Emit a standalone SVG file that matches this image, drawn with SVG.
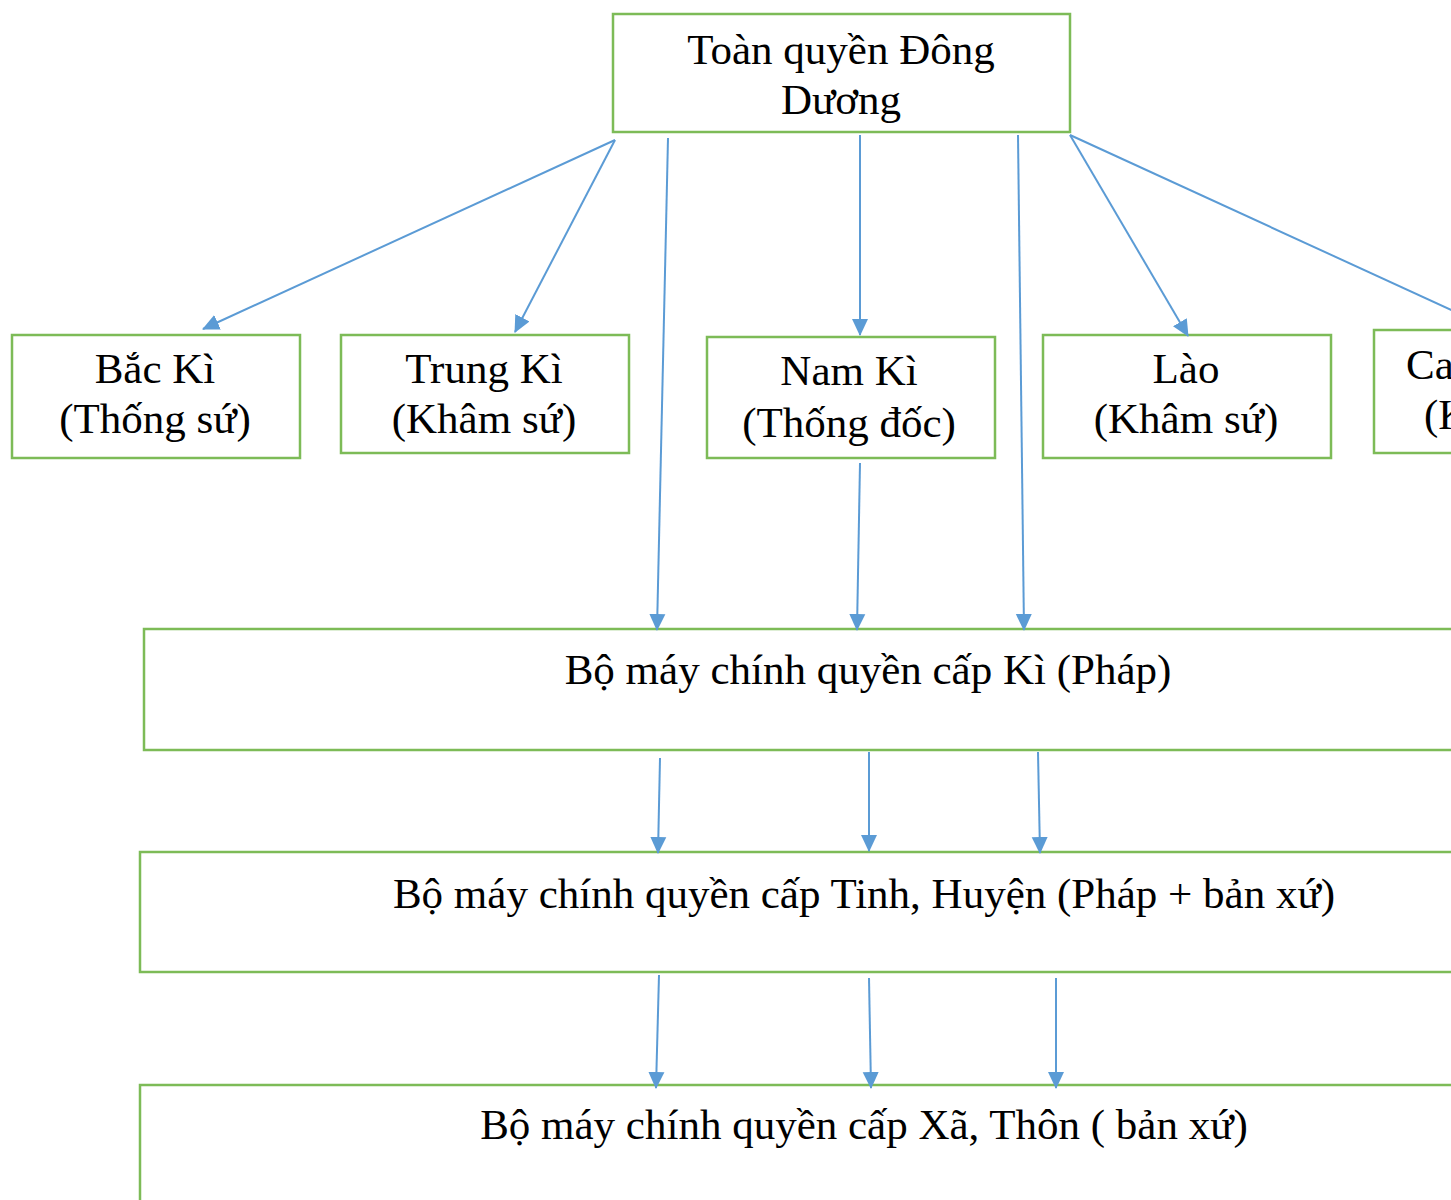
<svg xmlns="http://www.w3.org/2000/svg" width="1451" height="1200" viewBox="0 0 1451 1200">
<defs>
<marker id="ah" markerUnits="userSpaceOnUse" markerWidth="18" markerHeight="18" viewBox="0 0 18 18" refX="16" refY="9" orient="auto">
<path d="M0,1 L17,9 L0,17 Z" fill="#5b9bd5"/>
</marker>
<style>
.box{fill:#ffffff;stroke:#7dbb57;stroke-width:2.5}
.t{font-family:"Liberation Serif","Times New Roman",serif;font-size:43px;fill:#000;text-anchor:middle}
.c{fill:none;stroke:#5b9bd5;stroke-width:2;marker-end:url(#ah)}
</style>
</defs>
<rect width="1451" height="1200" fill="#ffffff"/>
<g id="toan-quyen">
<rect class="box" x="613" y="14" width="457" height="118"/>
<text class="t" x="841" y="64">Toàn quyền Đông</text>
<text class="t" x="841" y="114">Dương</text>
</g>
<g id="bac-ki">
<rect class="box" x="12" y="335" width="288" height="123"/>
<text class="t" x="155" y="383">Bắc Kì</text>
<text class="t" x="155" y="433">(Thống sứ)</text>
</g>
<g id="trung-ki">
<rect class="box" x="341" y="335" width="288" height="118"/>
<text class="t" x="484" y="383">Trung Kì</text>
<text class="t" x="484" y="433">(Khâm sứ)</text>
</g>
<g id="nam-ki">
<rect class="box" x="707" y="337" width="288" height="121"/>
<text class="t" x="849" y="385">Nam Kì</text>
<text class="t" x="849" y="437">(Thống đốc)</text>
</g>
<g id="lao">
<rect class="box" x="1043" y="335" width="288" height="123"/>
<text class="t" x="1186" y="383">Lào</text>
<text class="t" x="1186" y="433">(Khâm sứ)</text>
</g>
<g id="campuchia">
<rect class="box" x="1374" y="330" width="200" height="123"/>
<text class="t" x="1406" y="379" style="text-anchor:start">Campuchia</text>
<text class="t" x="1424" y="429" style="text-anchor:start">(Khâm sứ)</text>
</g>
<g id="cap-ki">
<rect class="box" x="144" y="629" width="1400" height="121"/>
<text class="t" x="868" y="684">Bộ máy chính quyền cấp Kì (Pháp)</text>
</g>
<g id="cap-tinh">
<rect class="box" x="140" y="852" width="1400" height="120"/>
<text class="t" x="864" y="908">Bộ máy chính quyền cấp Tinh, Huyện (Pháp + bản xứ)</text>
</g>
<g id="cap-xa">
<rect class="box" x="140" y="1085" width="1400" height="160"/>
<text class="t" x="864" y="1139">Bộ máy chính quyền cấp Xã, Thôn ( bản xứ)</text>
</g>
<g id="connectors">
<line class="c" x1="615" y1="140" x2="203" y2="329"/>
<line class="c" x1="615" y1="140" x2="515" y2="332"/>
<line class="c" x1="668" y1="138" x2="657" y2="630"/>
<line class="c" x1="860" y1="135" x2="860" y2="335"/>
<line class="c" x1="1018" y1="135" x2="1024" y2="630"/>
<line class="c" x1="1070" y1="135" x2="1188" y2="336"/>
<line x1="1070" y1="135" x2="1460" y2="314" stroke="#5b9bd5" stroke-width="2"/>
<line class="c" x1="860" y1="463" x2="857" y2="630"/>
<line class="c" x1="660" y1="758" x2="658" y2="853"/>
<line class="c" x1="869" y1="752" x2="869" y2="851"/>
<line class="c" x1="1038" y1="752" x2="1040" y2="853"/>
<line class="c" x1="659" y1="975" x2="656" y2="1088"/>
<line class="c" x1="869" y1="978" x2="871" y2="1088"/>
<line class="c" x1="1056" y1="978" x2="1056" y2="1088"/>
</g>
</svg>
